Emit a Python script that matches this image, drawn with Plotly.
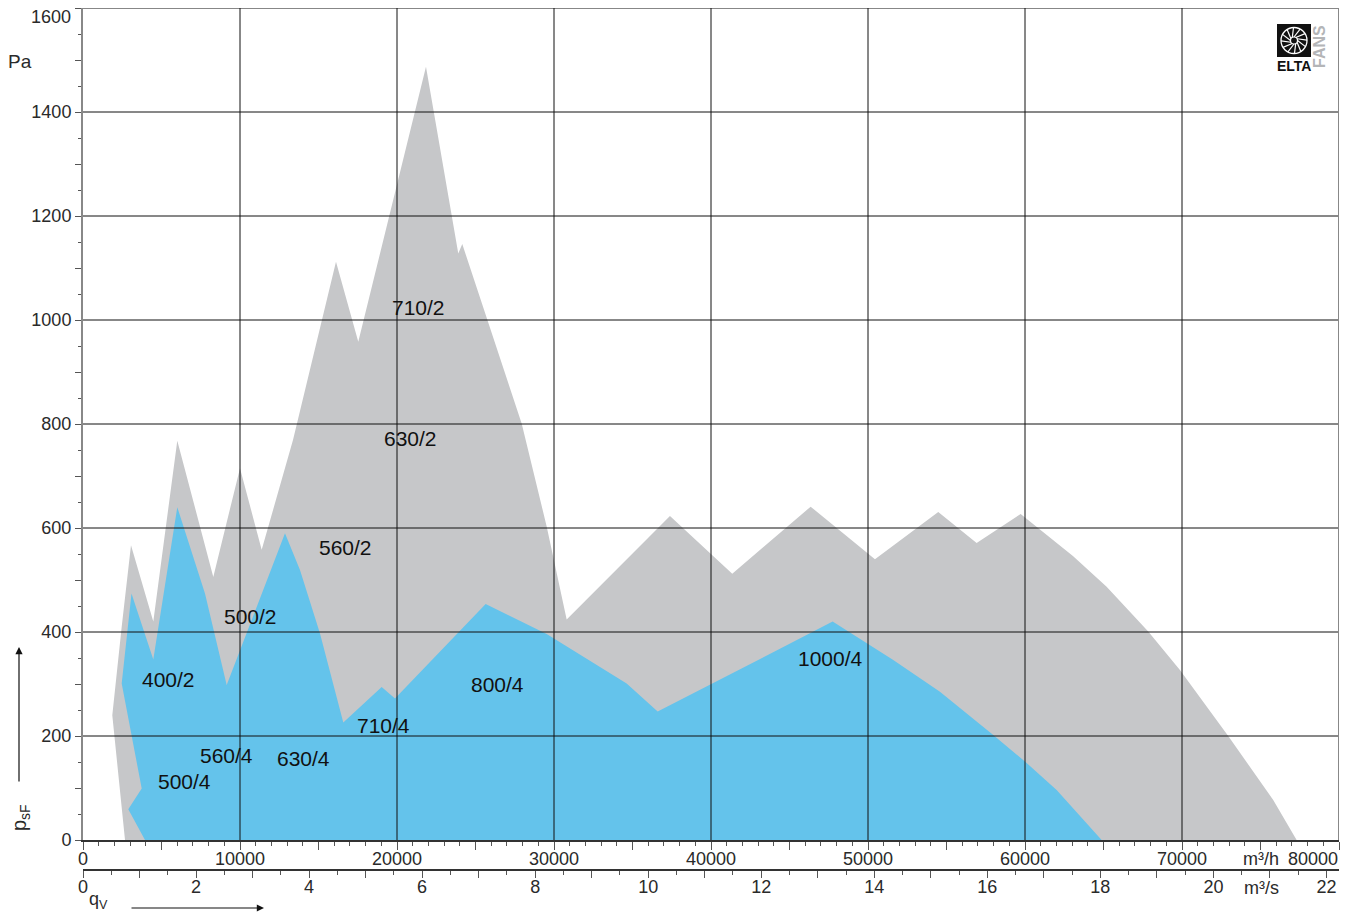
import math
import plotly.graph_objects as go

# ---------------- data ----------------
# Grey envelope (2-pole fans), volume flow in m3/h and static pressure in Pa
gray_q = [2675, 1866, 2465, 3057, 4478, 6006, 8299, 10000, 11381, 13375, 16114,
          17534, 21846, 23903, 24158, 27196, 27941, 29533, 30807, 37386, 41354,
          46347, 50443, 54475, 56920, 59722, 63053, 65199, 67849, 69868, 72944,
          75810, 77300]
gray_p = [0, 240, 410, 567, 420, 768, 506, 715, 558, 769, 1112,
          958, 1487, 1128, 1146, 872, 801, 603, 424, 623, 512,
          641, 540, 631, 571, 627, 546, 487, 401, 327, 200,
          77, 0]

# Blue envelope (4-pole fans)
blue_q = [3949, 2885, 3739, 2465, 3089, 4478, 6006, 7770, 9152, 12865, 13821,
          15095, 16579, 19024, 19871, 25648, 29533, 32928, 34628, 36603, 47748,
          51608, 54582, 57977, 59996, 62015, 64881]
blue_p = [0, 59, 99, 301, 474, 347, 640, 474, 298, 590, 519,
          397, 226, 294, 272, 454, 396, 333, 301, 247, 420,
          346, 285, 202, 151, 96, 0]

# Size labels and their positions (m3/h, Pa)
size_labels = ["710/2", "630/2", "560/2", "500/2", "400/2", "800/4",
               "1000/4", "710/4", "560/4", "630/4", "500/4"]
label_q = [21400, 20890, 16750, 10700, 5414, 26431, 47640, 19170, 9171, 14075, 6496]
label_p = [1025, 773, 563, 429, 308, 300, 350, 221, 162, 156, 112]

# Axes
q_h_ticks = list(range(0, 80001, 5000))
q_h_labels = [str(v) if v % 10000 == 0 and v < 80000 else "" for v in q_h_ticks]
q_s_ticks = list(range(0, 23))
q_s_labels = [str(v) if v % 2 == 0 else "" for v in q_s_ticks]
p_ticks = list(range(0, 1601, 100))
p_labels = [str(v) if v % 200 == 0 and v < 1600 else "" for v in p_ticks]
grid_q = list(range(10000, 80000, 10000))
grid_p = list(range(200, 1601, 200))

Q_MAX = 80000
P_MAX = 1600

# ---------------- figure ----------------
W, H = 1349, 916
ML, MR, MT, MB = 83, 10, 8, 46
PW, PH = W - ML - MR, H - MT - MB


def px(x):
    return (x - ML) / PW


def py(y):
    return (H - MB - y) / PH


GRAY = "#c6c7c9"
BLUE = "#64c3eb"
FAM = "Liberation Sans, Arial, sans-serif"
TICKFONT = dict(family=FAM, size=18, color="#2a2a2a")

fig = go.Figure()
fig.add_trace(go.Scatter(x=gray_q + [gray_q[0]], y=gray_p + [gray_p[0]], fill="toself",
                         fillcolor=GRAY, line=dict(width=0), mode="lines",
                         hoverinfo="skip", showlegend=False))
fig.add_trace(go.Scatter(x=blue_q + [blue_q[0]], y=blue_p + [blue_p[0]], fill="toself",
                         fillcolor=BLUE, line=dict(width=0), mode="lines",
                         hoverinfo="skip", showlegend=False))
# invisible trace to activate the m3/s axis
fig.add_trace(go.Scatter(x=[0], y=[0], xaxis="x2", yaxis="y", mode="markers",
                         marker=dict(opacity=0), hoverinfo="skip", showlegend=False))

shapes = []
for q in grid_q:
    shapes.append(dict(type="line", xref="x", yref="y", x0=q, x1=q, y0=0, y1=P_MAX,
                       line=dict(color="#111", width=1), layer="above"))
for p in grid_p:
    shapes.append(dict(type="line", xref="x", yref="y", x0=0, x1=Q_MAX, y0=p, y1=p,
                       line=dict(color="#111", width=1), layer="above"))
# right frame line
shapes.append(dict(type="line", xref="x", yref="y", x0=Q_MAX, x1=Q_MAX, y0=0, y1=P_MAX,
                   line=dict(color="#888", width=2), layer="above"))

# ---- logo ----
shapes.append(dict(type="rect", xref="paper", yref="paper",
                   x0=px(1277), x1=px(1311), y0=py(57), y1=py(24),
                   fillcolor="#111", line=dict(width=0), layer="above"))
cx, cy, R, r = 1294, 40.5, 13, 3.5
shapes.append(dict(type="circle", xref="paper", yref="paper",
                   x0=px(cx - R), x1=px(cx + R), y0=py(cy + R), y1=py(cy - R),
                   line=dict(color="white", width=1.3), layer="above"))
for k in range(12):
    a0 = math.radians(k * 30)
    a1 = a0 + math.radians(28)
    shapes.append(dict(type="line", xref="paper", yref="paper",
                       x0=px(cx + r * math.cos(a0)), y0=py(cy + r * math.sin(a0)),
                       x1=px(cx + R * math.cos(a1)), y1=py(cy + R * math.sin(a1)),
                       line=dict(color="white", width=1.2), layer="above"))
shapes.append(dict(type="circle", xref="paper", yref="paper",
                   x0=px(cx - r), x1=px(cx + r), y0=py(cy + r), y1=py(cy - r),
                   fillcolor="#111", line=dict(color="white", width=1.2), layer="above"))

annotations = []
for t, q, p in zip(size_labels, label_q, label_p):
    annotations.append(dict(x=q, y=p, xref="x", yref="y", text=t, showarrow=False,
                            xanchor="center", yanchor="middle",
                            font=dict(family=FAM, size=21, color="#111")))


def ann(text, x, y, xanchor="center", **kw):
    d = dict(x=px(x), y=py(y), xref="paper", yref="paper", text=text, showarrow=False,
             xanchor=xanchor, yanchor="middle", font=kw.pop("font", TICKFONT))
    d.update(kw)
    annotations.append(d)


ann("1600", 73, 17, xanchor="right")
ann("80000", 1313, 859)
ann("m³/h", 1261, 859)
ann("m³/s", 1261, 888)
ann("Pa", 20, 61, font=dict(family=FAM, size=19, color="#2a2a2a"))
ann("p<sub>sF</sub>", 20, 818, textangle=-90, font=dict(family=FAM, size=20, color="#2a2a2a"))
ann("q<sub>V</sub>", 98, 901, borderpad=0, font=dict(family=FAM, size=18, color="#2a2a2a"))
ann("<b>ELTA</b>", 1294, 66, font=dict(family=FAM, size=14, color="#111"))
ann("<b>FANS</b>", 1320, 47, textangle=-90, font=dict(family=FAM, size=16, color="#b4b5b7"))
# arrows
annotations.append(dict(x=px(19), y=py(647), xref="paper", yref="paper", text="",
                        showarrow=True, ax=0, ay=136, arrowhead=2, arrowsize=1.2,
                        arrowwidth=1.2, arrowcolor="#111"))
annotations.append(dict(x=px(264), y=py(908), xref="paper", yref="paper", text="",
                        showarrow=True, ax=-134, ay=0, arrowhead=2, arrowsize=1.2,
                        arrowwidth=1.2, arrowcolor="#111"))

fig.update_layout(
    width=W, height=H, autosize=False,
    margin=dict(l=ML, r=MR, t=MT, b=MB, pad=0),
    plot_bgcolor="white", paper_bgcolor="white",
    showlegend=False,
    xaxis=dict(range=[0, Q_MAX], domain=[0, 1], anchor="y", showgrid=False, zeroline=False,
               showline=True, linecolor="#333", linewidth=1.5,
               ticks="outside", tickmode="array", tickvals=q_h_ticks, ticktext=q_h_labels,
               ticklen=8, tickwidth=1, tickcolor="#555", tickfont=TICKFONT,
               ticklabelstandoff=-6,
               minor=dict(tickmode="linear", tick0=0, dtick=1000, ticks="outside",
                          ticklen=4, tickwidth=1, tickcolor="#555", showgrid=False),
               layer="above traces", fixedrange=True),
    xaxis2=dict(range=[0, Q_MAX / 3600], overlaying="x", anchor="free", position=0,
                side="bottom", showgrid=False, zeroline=False,
                showline=True, linecolor="#333", linewidth=1.5,
                ticks="outside", tickmode="array", tickvals=q_s_ticks, ticktext=q_s_labels,
                ticklen=7, tickwidth=1, tickcolor="#555", tickfont=TICKFONT,
                ticklabelstandoff=-6,
                minor=dict(tickmode="linear", tick0=0, dtick=0.5, ticks="outside",
                           ticklen=4, tickwidth=1, tickcolor="#555", showgrid=False),
                fixedrange=True),
    yaxis=dict(range=[0, P_MAX], domain=[30 / PH, 1], anchor="x", showgrid=False,
               zeroline=False, showline=True, linecolor="#888", linewidth=2,
               ticks="outside", tickmode="array", tickvals=p_ticks, ticktext=p_labels,
               ticklen=6, tickwidth=1, tickcolor="#555", tickfont=TICKFONT,
               minor=dict(tickmode="linear", tick0=0, dtick=50, ticks="outside",
                          ticklen=3, tickwidth=1, tickcolor="#555", showgrid=False),
               layer="above traces", fixedrange=True),
    shapes=shapes,
    annotations=annotations,
)

fig.write_html("out.html", config={"displayModeBar": False},
               post_script="document.body.style.margin='0';document.body.style.overflow='hidden';")
